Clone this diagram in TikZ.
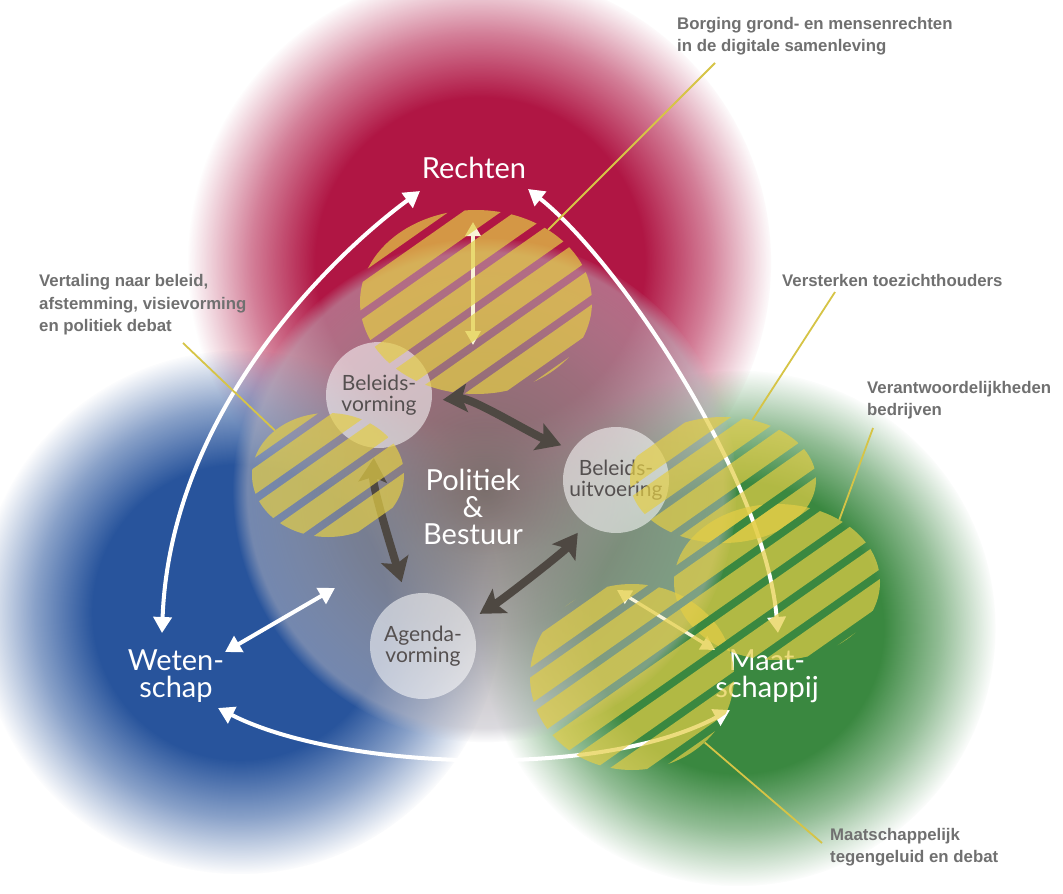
\documentclass[tikz,border=0pt]{standalone}
\usepackage{fontspec}
\setmainfont{Lato}
\newfontfamily\notefont{Liberation Sans}
\usetikzlibrary{arrows.meta,calc,shapes.geometric,fadings}

\definecolor{redblob}{RGB}{176,22,68}
\definecolor{blueblob}{RGB}{40,84,156}
\definecolor{greenblob}{RGB}{58,136,64}
\definecolor{hatchyellow}{RGB}{228,206,70}
\definecolor{leadyellow}{RGB}{214,196,70}
\definecolor{notegray}{RGB}{112,112,112}
\definecolor{stagetext}{RGB}{85,80,80}
\definecolor{arrowdark}{RGB}{78,72,66}
\definecolor{innerarrow}{RGB}{248,244,215}
\definecolor{ctrIn}{RGB}{118,110,106}
\definecolor{ctrMid}{RGB}{150,144,146}
\definecolor{ctrOut}{RGB}{192,190,200}
\definecolor{fadeA}{rgb}{0.95,0.95,0.95}
\definecolor{fadeB}{rgb}{0.72,0.72,0.72}
\definecolor{fadeC}{rgb}{0.52,0.52,0.52}
\definecolor{fadeH}{rgb}{0.55,0.55,0.55}
\definecolor{fadeW}{rgb}{1,1,1}
\definecolor{fadeK}{rgb}{0,0,0}

\pgfdeclareradialshading{blobfadeshade}{\pgfpointorigin}{color(0bp)=(fadeW); color(14bp)=(fadeW); color(19.5bp)=(fadeH); color(25bp)=(fadeK); color(50bp)=(fadeK)}
\pgfdeclarefading{blobfade}{\pgfuseshading{blobfadeshade}}
\pgfdeclareradialshading{centerfadeshade}{\pgfpointorigin}{color(0bp)=(fadeA); color(14bp)=(fadeB); color(23.5bp)=(fadeC); color(25bp)=(fadeK); color(50bp)=(fadeK)}
\pgfdeclarefading{centerfade}{\pgfuseshading{centerfadeshade}}
\pgfdeclareradialshading{centershade}{\pgfpointorigin}{color(0bp)=(ctrIn); color(14bp)=(ctrMid); color(25bp)=(ctrOut); color(50bp)=(ctrOut)}

\newcommand\hatchellipse[4]{%
  \begin{scope}
    \clip (#1,#2) ellipse [x radius=#3pt, y radius=#4pt];
    \pgfmathtruncatemacro\hatchK{(0.574*#1+0.819*#2)/30}
    \pgfmathsetmacro\hatchT{0.819*#1-0.574*#2}
    \foreach \k in {-7,...,7}{
      \pgfmathsetmacro\hatchS{(\hatchK+\k)*30}
      \draw[stripe] ({0.574*\hatchS+0.819*(\hatchT-220)},{0.819*\hatchS-0.574*(\hatchT-220)}) -- ({0.574*\hatchS+0.819*(\hatchT+220)},{0.819*\hatchS-0.574*(\hatchT+220)});
    }
  \end{scope}}

\begin{document}
\begin{tikzpicture}[x=1pt,y=-1pt,
  biglabel/.style={text=white, align=center, inner sep=0pt, font=\fontsize{29}{27}\selectfont},
  stage/.style={circle, minimum size=106pt, inner sep=0pt, fill=white, fill opacity=0.55, text opacity=1, text=stagetext, align=center, font=\fontsize{21}{21}\selectfont},
  note/.style={anchor=west, inner sep=0pt, align=left, text=notegray, font=\notefont\bfseries\fontsize{16.8}{22.5}\selectfont},
  zone/.style={ellipse, inner sep=0pt},
  stripe/.style={draw=hatchyellow, line width=22pt, draw opacity=0.7},
  leader/.style={draw=leadyellow, line width=1.8pt},
  whitearrow/.style={draw=white, line width=4pt, >={Triangle[width=18pt,length=16pt]}, <->},
  innerwhite/.style={draw=innerarrow, line width=3.2pt, >={Triangle[width=15pt,length=14pt]}, <->},
  darkarrow/.style={draw=arrowdark, line width=8pt, >={Stealth[width=28pt,length=24pt,inset=5pt]}, <->}
]
\useasboundingbox (0,0) rectangle (1063,894);
\fill[white] (0,0) rectangle (1063,894);

% colour fields
\fill[redblob, path fading=blobfade] (480,262) circle [radius=292pt];
\fill[blueblob, path fading=blobfade] (240,612) circle [radius=262pt];
\fill[greenblob, path fading=blobfade] (738,628) circle [radius=258pt];
\coordinate (pbc) at (485,490);
\shade[shading=centershade, path fading=centerfade] (pbc) circle [radius=252pt];

% stage circles
\node[stage] (bv) at (379,395) {Beleids-\\vorming};
\node[stage] (bu) at (616,480) {Beleids-\\uitvoering};
\node[stage] (av) at (423,646) {Agenda-\\vorming};
\node[text=white, align=center, inner sep=0pt, font=\fontsize{29}{27}\selectfont] (pb) at (473,507) {Politiek\\\&\\Bestuur};

% main labels
\node[biglabel] (rechten) at (474,168) {Rechten};
\node[biglabel] (weten) at (176,676) {Weten-\\schap};
\node[biglabel] (maat) at (767,676) {Maat-\\schappij};

% white arrows
\draw[whitearrow] ($(rechten)+(-54,23)$) .. controls (320,265) and (170,420) .. ($(weten)+(-14,-43)$);
\draw[whitearrow] ($(rechten)+(54,21)$) .. controls (620,262) and (765,480) .. ($(maat)+(11,-43)$);
\draw[whitearrow] ($(weten)+(42,32)$) .. controls (340,770) and (600,780) .. ($(maat)+(-37,34)$);
\draw[whitearrow] ($(weten)+(49,-24)$) -- ($(pbc)+(-150,98)$);
\draw[innerwhite] ($(maat)+(-52,-26)$) -- ($(pbc)+(132,100)$);
\draw[innerwhite] ($(rechten)+(-1,54)$) -- ($(pbc)+(-12,-145)$);

% dark arrows
\draw[darkarrow, shorten <=11pt, shorten >=12pt] (bv.-6) .. controls +(40,-3) and +(-40,-15) .. (bu.145);
\draw[darkarrow, shorten <=10pt, shorten >=14pt] (bv.-95) .. controls +(-2,40) and +(-12,-40) .. (av.109);
\draw[darkarrow, shorten <=12pt, shorten >=12pt] (av.29) .. controls +(35,-22) and +(-20,28) .. (bu.-126);

% hatched zones
\node[zone, minimum width=232pt, minimum height=184pt] (eT) at (476,302) {};
\node[zone, minimum width=152pt, minimum height=124pt] (eL) at (328,475) {};
\node[zone, minimum width=186pt, minimum height=126pt] (eUR) at (723,480) {};
\node[zone, minimum width=206pt, minimum height=156pt] (eMR) at (777,582) {};
\node[zone, minimum width=204pt, minimum height=186pt] (eB) at (632,677) {};
\hatchellipse{476}{302}{116}{92}
\hatchellipse{328}{475}{76}{62}
\hatchellipse{723}{480}{93}{63}
\hatchellipse{777}{582}{103}{78}
\hatchellipse{632}{677}{102}{93}

% notes
\node[note] (nB) at (677,36) {Borging grond- en mensenrechten\\in de digitale samenleving};
\node[note] (nV) at (39,305) {Vertaling naar beleid,\\afstemming, visievorming\\en politiek debat};
\node[note] (nVs) at (782,280) {Versterken toezichthouders};
\node[note] (nVa) at (867,400) {Verantwoordelijkheden\\bedrijven};
\node[note] (nM) at (830,847) {Maatschappelijk\\tegengeluid en debat};

\draw[leader] ($(nB.west)+(38,27)$) -- (eT.45);
\draw[leader] ($(nV.west)+(144,38)$) -- (eL.140);
\draw[leader] ($(nVs.west)+(53,12)$) -- (eUR.64);
\draw[leader] ($(nVa.west)+(6,28)$) -- (eMR.45);
\draw[leader] (eB.-42) -- ($(nM.west)+(-8,-4)$);
\end{tikzpicture}
\end{document}
